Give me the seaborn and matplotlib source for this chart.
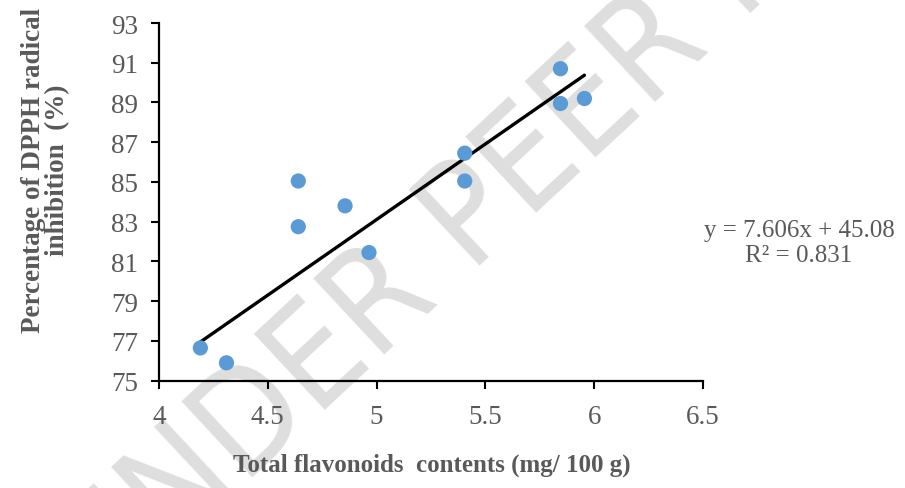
import matplotlib
matplotlib.use('Agg')
import matplotlib.pyplot as plt
import numpy as np
import seaborn as sns

# values
flavonoids = [4.19, 4.31, 4.64, 4.64, 4.855, 4.965, 5.405, 5.405, 5.845, 5.845, 5.955]
dpph = [76.65, 75.9, 82.75, 85.05, 83.8, 81.45, 86.45, 85.05, 90.7, 88.95, 89.2]
slope = 7.606
intercept = 45.08
r2 = 0.831
x_ticks = [4, 4.5, 5, 5.5, 6, 6.5]
x_tick_labels = ['4', '4.5', '5', '5.5', '6', '6.5']
y_ticks = [75, 77, 79, 81, 83, 85, 87, 89, 91, 93]

sns.set_theme(style='ticks')
plt.rcParams['font.family'] = ['Liberation Serif', 'DejaVu Serif']
grey = '#595959'

fig = plt.figure(figsize=(9.05, 4.89), dpi=100)
fig.patch.set_facecolor('white')
ax = fig.add_axes([0.1757, 0.2194, 0.6011, 0.7315])
ax.patch.set_alpha(0)

# watermark (runs off the image like in the original)
fig.text(0.642, 0.76, 'UNDER PEER REVIEW', rotation=43, rotation_mode='anchor',
         ha='center', va='center', fontsize=103, family='DejaVu Sans',
         fontstretch='condensed', color='#dedede', zorder=-5)

# trend line from the fitted equation
line_x = np.array([min(flavonoids), max(flavonoids)])
sns.lineplot(x=line_x, y=slope * line_x + intercept, color='black', lw=2.4, ax=ax, zorder=2)
sns.scatterplot(x=flavonoids, y=dpph, s=120, color='#5B9BD5', edgecolor='none', ax=ax, zorder=3)

ax.set_xlim(4, 6.5)
ax.set_ylim(75, 93)
ax.set_xticks(x_ticks)
ax.set_xticklabels(x_tick_labels)
ax.set_yticks(y_ticks)
ax.tick_params(axis='both', direction='out', length=6, width=1.5, colors='black',
               labelcolor=grey, labelsize=19.5)
ax.tick_params(axis='x', pad=11)
ax.tick_params(axis='y', pad=9)
for s in ['top', 'right']:
    ax.spines[s].set_visible(False)
for s in ['left', 'bottom']:
    ax.spines[s].set_linewidth(1.6)
    ax.spines[s].set_color('black')
ax.set_xlabel('')
ax.set_ylabel('')

fig.text(0.477, 0.049, 'Total flavonoids  contents (mg/ 100 g)', ha='center', va='center',
         fontsize=18, fontweight='bold', color=grey)
fig.text(0.05, 0.652, 'Percentage of DPPH radical\ninhibition  (%)', rotation=90,
         ha='center', va='center', multialignment='center', linespacing=0.95,
         fontsize=19.5, fontweight='bold', color=grey)

fig.text(0.883, 0.502, 'y = 7.606x + 45.08\nR² = 0.831', ha='center', va='center',
         multialignment='center', linespacing=1.15, fontsize=18, color=grey)

fig.savefig('out.png', dpi=100)
